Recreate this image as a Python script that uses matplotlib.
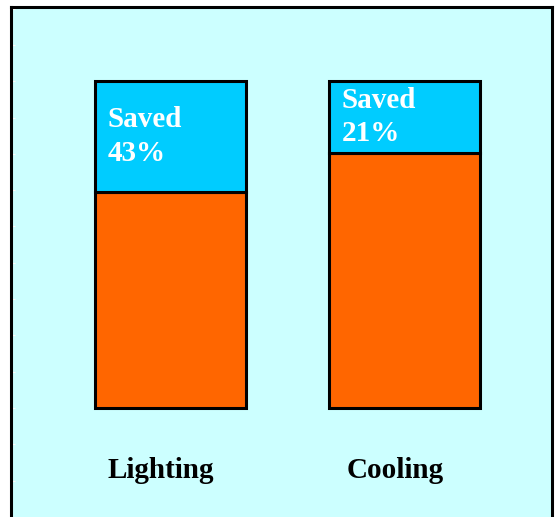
import numpy as np
import matplotlib.pyplot as plt

# ---- Data ----
categories = ['Lighting', 'Cooling']
used = [66, 78]          # remaining share (orange)
saved = [34, 22]         # saved share drawn (blue)
saved_labels = ['Saved\n43%', 'Saved\n21%']

# ---- Colors ----
bg_color = '#CCFFFF'
saved_color = '#00CCFF'
used_color = '#FF6600'

fig = plt.figure(figsize=(5.55, 5.17), dpi=100)
fig.patch.set_facecolor('white')
ax = fig.add_axes([0.0198, 0.0, 0.975, 0.9865])
ax.set_facecolor(bg_color)

x = np.arange(len(categories))
width = 0.645

ax.bar(x, used, width=width, color=used_color, edgecolor='black', linewidth=2.2, zorder=2)
ax.bar(x, saved, width=width, bottom=used, color=saved_color, edgecolor='black', linewidth=2.2, zorder=2)

# Text inside the saved part
for xi, u, s, lab in zip(x, used, saved, saved_labels):
    ax.text(xi - 0.27, u + s / 2, lab, ha='left', va='center', color='white',
            fontsize=21, fontweight='bold', family='Liberation Serif', linespacing=1.3, zorder=3)

# Category labels below the bars
for xi, cat in zip(x, categories):
    ax.text(xi - 0.04, -19.2, cat, ha='center', va='center', color='black',
            fontsize=21, fontweight='bold', family='Liberation Serif')

ax.set_xlim(-0.682, 1.630)
ax.set_ylim(-33.3, 122.6)

# Frame: left, top and right only
ax.spines['bottom'].set_visible(False)
for side in ['left', 'top', 'right']:
    ax.spines[side].set_linewidth(2.2)
    ax.spines[side].set_color('black')

ax.set_xticks([])
ax.set_yticks(np.arange(-33.3, 122.6, 11.1))
ax.tick_params(axis='y', direction='in', length=3, color='white', labelleft=False)

fig.savefig('out.png', dpi=100)
